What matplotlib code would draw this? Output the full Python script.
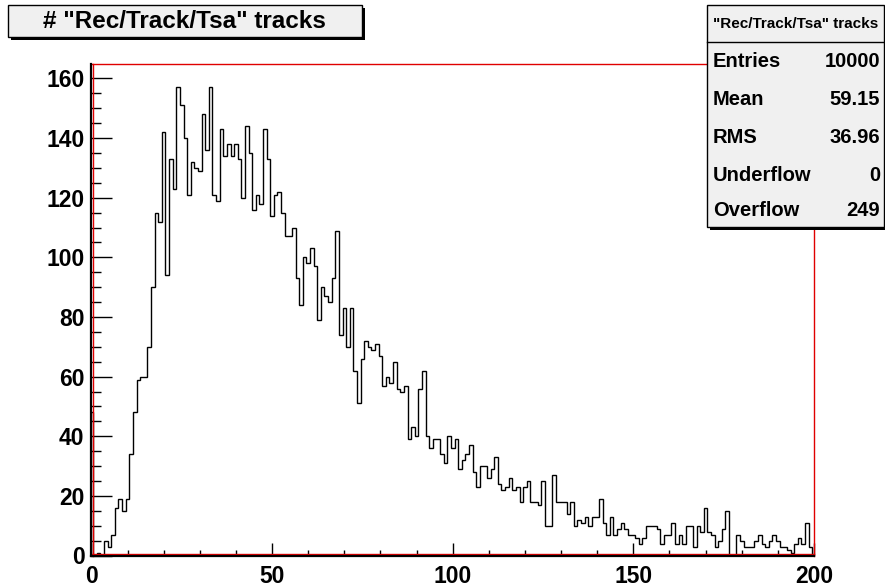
import numpy as np
import matplotlib
matplotlib.use("Agg")
import matplotlib.pyplot as plt
from matplotlib.patches import Rectangle
from matplotlib.lines import Line2D
from matplotlib.ticker import MultipleLocator
import matplotlib.transforms as mtransforms

# Number of reconstructed Tsa tracks per event, one bin per integer value
counts = [
    48, 0, 1, 0, 5, 3, 7, 16, 19, 15,
    19, 34, 48, 59, 60, 60, 70, 90, 115, 112,
    142, 94, 133, 123, 157, 151, 140, 121, 132, 130,
    129, 148, 136, 157, 121, 119, 143, 134, 138, 134,
    138, 133, 120, 144, 135, 116, 121, 118, 143, 133,
    114, 121, 122, 115, 107, 107, 110, 93, 84, 100,
    98, 103, 97, 79, 90, 87, 85, 93, 109, 74,
    83, 70, 83, 62, 51, 66, 72, 70, 69, 71,
    67, 57, 60, 58, 65, 56, 55, 57, 39, 43,
    40, 56, 62, 40, 36, 39, 39, 34, 31, 40,
    36, 39, 29, 32, 34, 37, 28, 23, 30, 30,
    26, 29, 33, 24, 22, 23, 26, 22, 23, 18,
    23, 25, 18, 18, 17, 25, 10, 10, 27, 18,
    18, 18, 14, 18, 10, 12, 11, 13, 10, 13,
    13, 19, 11, 7, 13, 7, 9, 11, 9, 7,
    7, 6, 4, 6, 10, 10, 10, 9, 4, 7,
    7, 11, 4, 7, 4, 10, 10, 3, 10, 8,
    16, 8, 7, 3, 5, 9, 15, 0, 0, 7,
    5, 3, 3, 3, 5, 7, 4, 3, 5, 7,
    5, 3, 3, 2, 1, 4, 6, 4, 11, 3,
]
bin_edges = np.arange(len(counts) + 1) - 0.5

title_text = '# "Rec/Track/Tsa" tracks'
stats_header = '"Rec/Track/Tsa" tracks'
stats_names = ["Entries", "Mean", "RMS", "Underflow", "Overflow"]
stats_values = ["10000", "59.15", "36.96", "0", "249"]

W, H = 885, 587
FONT = "Liberation Sans"


def fx(x):
    return x / W


def fy(y):
    return 1 - y / H


fig = plt.figure(figsize=(W / 100, H / 100), dpi=100)
fig.patch.set_facecolor("white")

left, right, top, bottom = 91.4, 814.0, 64.0, 555.5
ax = fig.add_axes([fx(left), fy(bottom), fx(right) - fx(left), (bottom - top) / H])
ax.set_facecolor("white")

ax.stairs(counts, bin_edges, color="black", linewidth=1.0, baseline=0, zorder=3)
ax.set_xlim(0, 200)
ax.set_ylim(0, max(counts) * 1.05)

# frame: red box, black axis lines on the left and bottom
for side in ["top", "right"]:
    ax.spines[side].set_color("#e00000")
    ax.spines[side].set_linewidth(1.0)
for side in ["left", "bottom"]:
    ax.spines[side].set_color("black")
    ax.spines[side].set_linewidth(1.6)
    ax.spines[side].set_zorder(5)

shift_up = mtransforms.ScaledTranslation(0, 1.5 / 100, fig.dpi_scale_trans)
shift_right = mtransforms.ScaledTranslation(1.5 / 100, 0, fig.dpi_scale_trans)
ax.add_line(Line2D([0, 1], [0, 0], transform=ax.transAxes + shift_up,
                   color="#e00000", lw=1.0, zorder=4, clip_on=False))
ax.add_line(Line2D([0, 0], [0, 1], transform=ax.transAxes + shift_right,
                   color="#e00000", lw=1.0, zorder=4, clip_on=False))

ax.xaxis.set_major_locator(MultipleLocator(50))
ax.xaxis.set_minor_locator(MultipleLocator(10))
ax.yaxis.set_major_locator(MultipleLocator(20))
ax.yaxis.set_minor_locator(MultipleLocator(5))

ax.tick_params(axis="x", which="major", direction="in", length=9.5, width=1.0,
               pad=7, top=False)
ax.tick_params(axis="x", which="minor", direction="in", length=4.5, width=1.0,
               top=False)
ax.tick_params(axis="y", which="major", direction="in", length=15, width=1.0,
               pad=5, right=False)
ax.tick_params(axis="y", which="minor", direction="in", length=7.5, width=1.0,
               right=False)

for lab in ax.get_xticklabels() + ax.get_yticklabels():
    lab.set_fontfamily(FONT)
    lab.set_fontweight("bold")
    lab.set_fontsize(16.5)

# title box with drop shadow
tx0, ty0, tx1, ty1 = 7.5, 5.5, 361.5, 36.5
sh = 3
fig.patches.append(Rectangle((fx(tx0 + sh), fy(ty1 + sh)), (tx1 - tx0) / W, (ty1 - ty0) / H,
                             transform=fig.transFigure, facecolor="black",
                             edgecolor="none", zorder=1))
fig.patches.append(Rectangle((fx(tx0), fy(ty1)), (tx1 - tx0) / W, (ty1 - ty0) / H,
                             transform=fig.transFigure, facecolor="#f0f0f0",
                             edgecolor="black", linewidth=1.0, zorder=2))
fig.text(fx((tx0 + tx1) / 2), fy((ty0 + ty1) / 2 + 1), title_text, ha="center", va="center",
         fontfamily=FONT, fontweight="bold", fontsize=17.5, zorder=3)

# statistics box with drop shadow
sx0, sy0, sx1, sy1 = 706.5, 5.0, 884.0, 226.5
fig.patches.append(Rectangle((fx(sx0 + sh), fy(sy1 + sh)), (sx1 - sx0) / W, (sy1 - sy0) / H,
                             transform=fig.transFigure, facecolor="black",
                             edgecolor="none", zorder=6))
fig.patches.append(Rectangle((fx(sx0), fy(sy1)), (sx1 - sx0) / W, (sy1 - sy0) / H,
                             transform=fig.transFigure, facecolor="#f0f0f0",
                             edgecolor="black", linewidth=1.0, zorder=7))
fig.lines.append(Line2D([fx(sx0), fx(sx1)], [fy(41.5), fy(41.5)],
                        transform=fig.transFigure, color="black", lw=1.0, zorder=8))
fig.text(fx((sx0 + sx1) / 2), fy(24), stats_header, ha="center", va="center",
         fontfamily=FONT, fontweight="bold", fontsize=11, zorder=9)

row_y = [61.5, 99.5, 137.5, 175.5, 210.5]
for name, val, ry in zip(stats_names, stats_values, row_y):
    fig.text(fx(713), fy(ry), name, ha="left", va="center",
             fontfamily=FONT, fontweight="bold", fontsize=14.5, zorder=9)
    fig.text(fx(880), fy(ry), val, ha="right", va="center",
             fontfamily=FONT, fontweight="bold", fontsize=14.5, zorder=9)

fig.savefig("out.png", dpi=100, facecolor="white")
